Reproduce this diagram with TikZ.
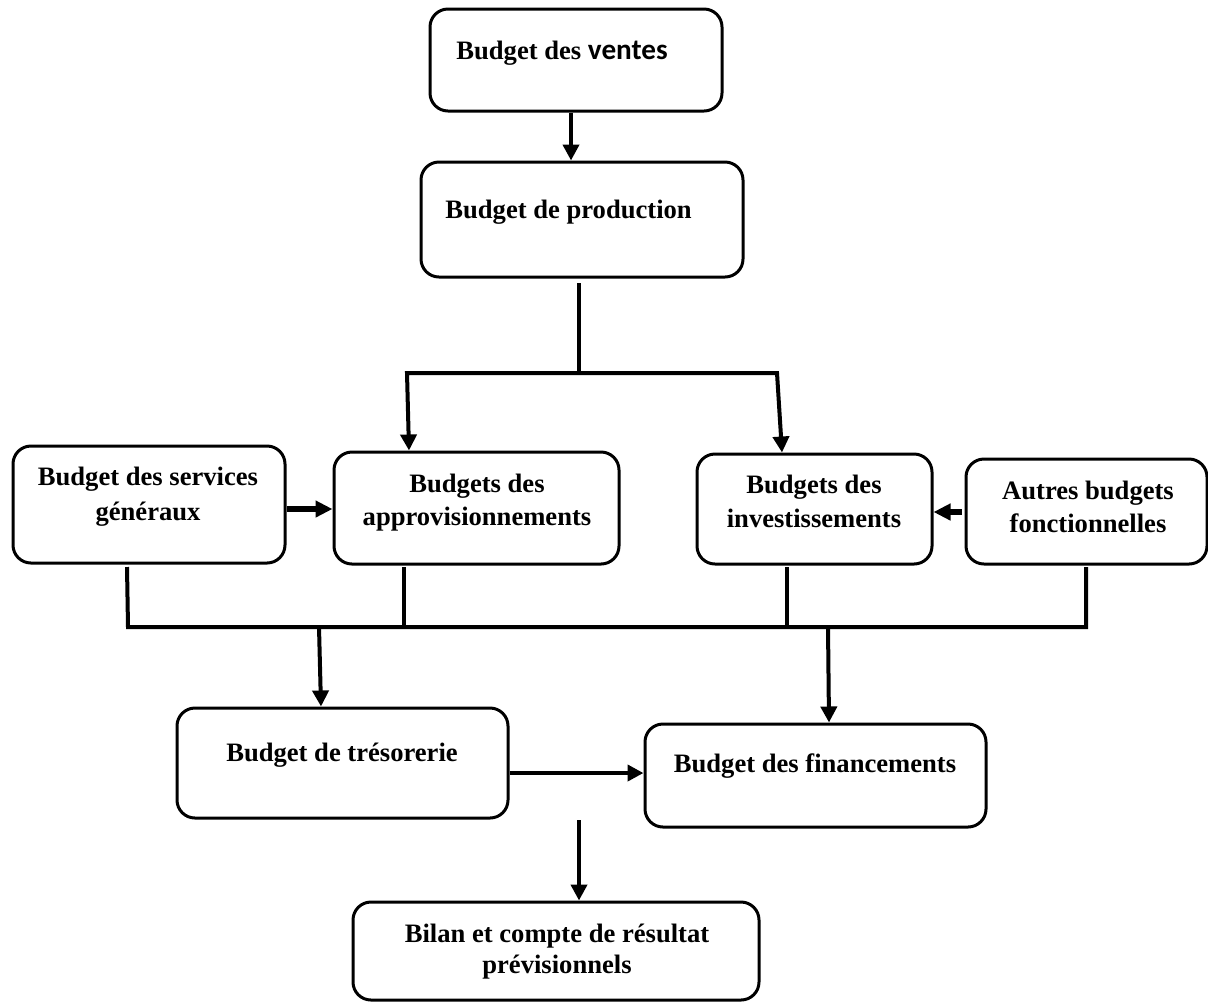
\documentclass[tikz,border=0pt]{standalone}
\usepackage{fontspec}
\setmainfont{Liberation Serif}
\newfontfamily\carlito{Carlito}
\usetikzlibrary{arrows.meta,calc}
\begin{document}
\begin{tikzpicture}[x=0.5pt,y=-0.5pt,
  box/.style={draw, line width=1.5pt, rounded corners=9pt, inner sep=0pt},
  lbl/.style={font=\fontsize{13.3}{16}\selectfont\bfseries, inner sep=0pt, anchor=base},
  conn/.style={line width=2pt, line join=miter},
  tip/.tip={Triangle[width=8pt,length=8pt]},
  arr/.style={conn, -tip},
  fat/.style={line width=2.6pt, -{Triangle[width=8pt,length=8.5pt]}},
  ]
\useasboundingbox (0,0) rectangle (1208,1003);

% boxes
\node[box, minimum width=146pt,   minimum height=51pt]   (ventes) at (576,60) {};
\node[box, minimum width=161pt,   minimum height=57.5pt] (prod)   at (582,219.5) {};
\node[box, minimum width=136pt,   minimum height=58.5pt] (sg)     at (149,504.5) {};
\node[box, minimum width=142.5pt, minimum height=56pt]   (appro)  at (476.5,508) {};
\node[box, minimum width=117.5pt, minimum height=55pt]   (inv)    at (814.5,509) {};
\node[box, minimum width=120.5pt, minimum height=52.5pt] (autres) at (1086.5,511.5) {};
\node[box, minimum width=165.5pt, minimum height=55pt]   (treso)  at (342.5,763) {};
\node[box, minimum width=170.5pt, minimum height=51.5pt] (fin)    at (815.5,775.5) {};
\node[box, minimum width=203pt,   minimum height=49pt]   (bilan)  at (556,951) {};

% labels
\node[lbl, anchor=base west] (ventes-t) at (456,59) {Budget des {\carlito\fontsize{14.6}{16}\selectfont ventes}};
\node[lbl, anchor=base west] (prod-t)   at (445,218) {Budget de production};
\node[lbl] (sg-a)     at (148,485) {Budget des services};
\node[lbl] (sg-b)     at (148,520) {généraux};
\node[lbl] (appro-a)  at (477,492) {Budgets des};
\node[lbl] (appro-b)  at (477,525) {approvisionnements};
\node[lbl] (inv-a)    at (814,493) {Budgets des};
\node[lbl] (inv-b)    at (814,527) {investissements};
\node[lbl] (autres-a) at (1088,499) {Autres budgets};
\node[lbl] (autres-b) at (1088,532) {fonctionnelles};
\node[lbl] (treso-t)  at (342,761) {Budget de trésorerie};
\node[lbl] (fin-t)    at (815,772) {Budget des financements};
\node[lbl] (bilan-a)  at (557,942) {Bilan et compte de résultat};
\node[lbl] (bilan-b)  at (557,973) {prévisionnels};

% junction points
\coordinate (pstub) at (579,283);
\coordinate (pj)    at (579,373);
\coordinate (hl)    at (407,373);
\coordinate (hr)    at (777,373);
\coordinate (b1)    at (128,627);
\coordinate (b2)    at (404,627);
\coordinate (b3)    at (787,627);
\coordinate (b4)    at (1086,627);
\coordinate (d1)    at (319,627);
\coordinate (d2)    at (828,627);
\coordinate (tstub) at (579,820);

% connectors
\draw[arr] (ventes.south -| 571,0) -- (prod.north -| 571,0);
\draw[conn] (pstub) -- (pj);
\draw[conn, tip-tip] (appro.north -| 409,0) -- (hl) -- (hr) -- (inv.north -| 782,0);

\draw[fat] (sg.east |- 0,509) -- (appro.west |- 0,509);
\draw[fat] (autres.west |- 0,512) ++(-3,0) -- (inv.east |- 0,512);

\draw[conn] (127,567) -- (b1) -- (b4) -- (1086,567);
\draw[conn] (404,567) -- (b2);
\draw[conn] (787,567) -- (b3);

\draw[arr] (d1) -- (treso.north -| 321,0);
\draw[arr] (d2) -- (fin.north -| 829,0);
\draw[arr] (treso.east |- 0,773) -- (fin.west |- 0,773);
\draw[arr] (tstub) -- (bilan.north -| 579,0);
\end{tikzpicture}
\end{document}
